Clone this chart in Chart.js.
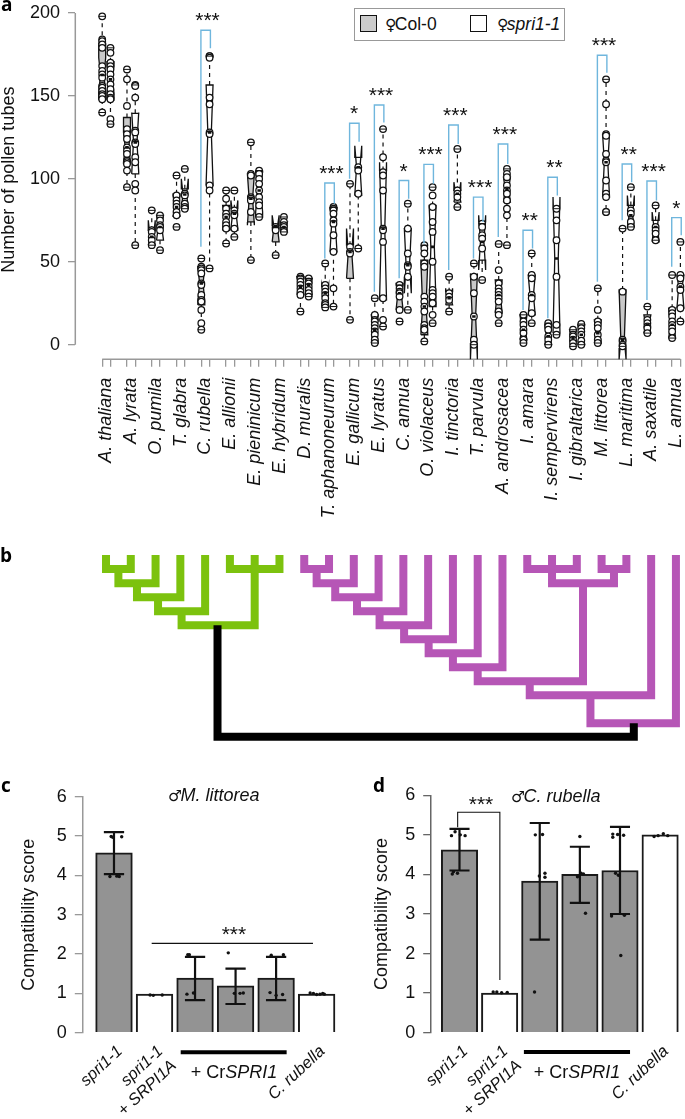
<!DOCTYPE html>
<html><head><meta charset="utf-8">
<script src="https://cdn.jsdelivr.net/npm/chart.js@4"></script>
<style>
html,body{margin:0;padding:0;background:#fff;width:685px;height:1119px;overflow:hidden;font-family:"Liberation Sans",sans-serif;color:#111}
canvas{position:absolute;display:block}
.t{position:absolute;white-space:nowrap;font-size:18px;line-height:1}
.s{font-family:"DejaVu Sans",sans-serif;font-size:15.5px;letter-spacing:-1.5px}
.p{position:absolute;font-family:"Open Sans",sans-serif;font-weight:700;font-size:19px;line-height:1;color:#000}
i{font-style:italic}
#lg{position:absolute;left:354px;top:8px;width:209px;height:31px;border:1.5px solid #999;background:#fff}
.sw{position:absolute;top:6px;width:15px;height:15px;border:1.7px solid #111}
</style></head><body>
<canvas id="a" width="685" height="540" style="left:0;top:0"></canvas>
<canvas id="b" width="685" height="220" style="left:0;top:540px"></canvas>
<canvas id="c" width="345" height="349" style="left:0;top:770px"></canvas>
<canvas id="d" width="340" height="349" style="left:345px;top:770px"></canvas>
<div class="p" style="left:1px;top:-5px">a</div>
<div class="p" style="left:0;top:546px">b</div>
<div class="p" style="left:1px;top:776px">c</div>
<div class="p" style="left:373px;top:776px">d</div>
<div id="lg">
 <div class="sw" style="left:5px;background:#ccc"></div>
 <div class="t" style="left:30px;top:7px;font-size:17.5px"><span class="s">♀</span>Col-0</div>
 <div class="sw" style="left:115px;background:#fff"></div>
 <div class="t" style="left:142px;top:7px;font-size:17.5px"><span class="s">♀</span><i>spri1-1</i></div>
</div>
<div class="t" style="left:168px;top:786px"><span class="s">♂</span><i>M. littorea</i></div>
<div class="t" style="left:511px;top:787px"><span class="s">♂</span><i>C. rubella</i></div>
<div class="t" style="left:234px;top:1072px;transform:translate(-50%,-50%)">+ Cr<i>SPRI1</i></div>
<div class="t" style="left:577px;top:1072px;transform:translate(-50%,-50%)">+ Cr<i>SPRI1</i></div>
<script>
// ---------- panel a data ----------
const species=["A. thaliana","A. lyrata","O. pumila","T. glabra","C. rubella","E. allionii","E. pieninicum","E. hybridum","D. muralis","T. aphanoneurum","E. gallicum","E. lyratus","C. annua","O. violaceus","I. tinctoria","T. parvula","A. androsacea","I. amara","I. sempervirens","I. gibraltarica","M. littorea","L. maritima","A. saxatile","L. annua"];
const colPoints=[[198,184,183,181,179,168,165,163,161,156,155,153,151,150,148,140],[166,160,144,130,127,124,119,117,115,111,110,109,105,95],[81,69,68,65,63,60],[102,90,87,85,83,80,78,71],[52,47,46,45,43,37,36,30,27,26,21,13,9],[93,88,82,79,77,74,72,70,61],[122,103,102,89,88,87,80,51],[71,70,69,54],[41,40,38,36,34,32,30,20],[49,36,34,32,30,28,25,24,22.5],[97,59,56,55,15],[28,18,15,14,12,10,8,6,3,1],[36,34,32,31,29,21,14],[60,58,55,49,47,29,26,23,20,12,10,9,2],[41,31,29,27,20],[49,41,31,17,3,0],[60.7,45,37,34,32,30,28,26,20,18,13],[18,14,12,9,7,3,1],[13,11,9,5,3,0],[9,6,5,3,1,-1],[34,21,14,12,10,6,3,1],[70,32,3,2,0,-1],[23,15,13,11,10,7],[42,21,19,17,14,12,10,8,4]];
const spriPoints=[[179,176,170,168,166,163,160,157,154,151,149,148,136,133],[156.6,156,149,129,128,122,121,113,110,97,93,60],[78,75,72,71,69,57],[106,91,90,85,83,82],[174,174,173,149,145,128,127,96,93,46],[93,81,79,78,70,65],[105,103,100,97,93,89,86,84,77],[77,74,72,71,69,68],[40,38,37,35,33,31,29],[83,82,81,79,75,73,66,56,34,23],[107,105,91,58],[130,113,104,102,93,70,69,62,28,15,11],[85,70,55,48,47,41,21],[95,90,83,74,68,50,33,31,29,25,18,13],[118,93,91,89,83],[73,71,66,64,58,39],[106,103,101,96,93,91,87,82,78,60],[55,42,40,30,28,19,13],[82,75,63,41,12,6],[12.5,10,8,6,2.5,0],[160,145,127,126,115,111,110,99,91,89,80,80],[95,81,79,74,71],[84,71,69,67,63],[62,42,40,35,33,22,14]];
const colQ1=[147.5,109,60,78,24,69,74,62,30,23,40,1,21,6,24,1,19,3,0,2,1,-2,7,4];
const colMed=[162.6,119,65,83,37,77,88,71,35,31,56,9,31,23,28,17,30,9,5,4,7,3,12,12];
const colQ3=[181.7,137,69,91,47,84,103,72,41,35,60,18,37,51,32,41,39,18,12,9,15,33,18,22];
const colNotchLo=[152,110,60,77,26,70,72,62,30,23,40,1,21,6,24,-8.8,19,3,0,2,1,-8.8,7,4];
const colNotchHi=[173,128,75,90,47,84,103,78,41,36,70,18,37,51,34,43,39,18,12,9,15,33,18,22];
const spriQ1=[147.5,103,63,82,96,69,77,68,30,56,90,27,41,23,86,51,86,18,7,0,89,71,62,22];
const spriMed=[160,122,71,90.6,128,79,93,71,36,74,107,70,48,59,91,62,94,30,52,6,110,78,71,35];
const spriQ3=[170.6,139.5,78,94,156.6,82,104,74,40,82,113,105,70,84,93,74,101,42,83,12,126.5,84,75,42];
const spriNotchLo=[152,104,63,83,97,70,80,68,30,56,90,27,31,23,86,45,86,18,7,0,89,71,62,22];
const spriNotchHi=[168,140,78,100,157,87,105,74,40,83,120,110,70,84,98,78,101,42,89,12,127,90,80,42];
const sigGroups=[4,9,10,11,12,13,14,15,16,17,18,20,21,22,23];
const sigStars=["***","***","*","***","*","***","***","***","***","**","**","***","**","***","*"];
const sigTop=[189.6,97.5,133.5,144.5,99,108.7,132.5,89,121,69,101,174.5,109,98.7,76.6];
const sigLeft=[59,52,100,32,40,61,45,52,65,21,16,38,75,27,47];
const sigRight=[178.7,85,122.4,134,88,97,121,74,109,58,90,164,98,87,66];
const yTicksA=[0,50,100,150,200];
// ---------- panel b data (tip index, node depth) ----------
const greenBranches=[[[0,57],[0,87],[1,87],[1,57]],[[.5,87],[.5,130],[2,130],[2,57]],[[1.25,130],[1.25,172],[3,172],[3,57]],[[2.1,172],[2.1,214],[4,214],[4,57]],[[3.05,214],[3.05,256],[6,256],[6,57]],[[5,57],[5,87],[7,87],[7,57]]];
const purpleBranches=[[[8,57],[8,87],[9,87],[9,57]],[[8.5,87],[8.5,130],[10,130],[10,57]],[[9.25,130],[9.25,172],[11,172],[11,57]],[[10.13,172],[10.13,214],[12,214],[12,57]],[[11.04,214],[11.04,256],[13,256],[13,57]],[[12.03,256],[12.03,298],[14,298],[14,57]],[[13.02,298],[13.02,340],[15,340],[15,57]],[[14,340],[14,382],[16,382],[16,57]],[[15,382],[15,424],[19.25,424],[19.25,130]],[[17,57],[17,87],[19,87],[19,57]],[[18,57],[18,130]],[[20,57],[20,87],[21,87],[21,57]],[[20.5,87],[20.5,130]],[[18,130],[20.5,130]],[[17.1,424],[17.1,466],[22,466],[22,57]],[[19.55,466],[19.55,550],[23,550],[23,57]]];
const rootBranch=[[[4.5,268],[4.5,590],[21.3,590],[21.3,562]]];
// ---------- panels c,d data ----------
const barLabels=["spri1-1",["spri1-1","+ SRPI1A"],"","","","C. rubella"];
const barFills=["#939393","#ffffff","#939393","#939393","#939393","#ffffff"];
const meansC=[4.57,0.98,1.39,1.19,1.39,0.98];
const errHiC=[5.1,null,1.93,1.63,1.93,null];
const errLoC=[4.03,null,0.83,0.73,0.83,null];
const dotsXC=[-.07,-.03,.19,-.1,.07,.13,.89,.97,1.19,1.82,1.86,1.8,1.96,2.82,2.97,3.11,3.19,3.88,4.18,3.85,4,4.16,4.84,4.92,5,5.08,5.15,5.19];
const dotsYC=[4.99,4.97,4.98,3.97,3.98,3.97,.96,.95,.96,1.98,1.98,.98,1.01,2.03,1,1,1.01,1.97,1.98,1.02,.95,.97,1.01,1,.97,.98,1,.98];
const meansD=[4.62,1,3.83,4,4.1,5];
const errHiD=[5.15,null,5.3,4.7,5.2,null];
const errLoD=[4.1,null,2.35,3.28,3,null];
const dotsXD=[-.2,-.11,.02,.14,-.18,-.15,-.05,.84,.93,1.05,1.19,1.89,2.07,1.99,2.13,2.13,1.87,3,2.94,3.03,3.09,3.14,3.82,3.82,3.94,4.09,3.89,3.96,3.79,4.11,4.02,4.85,4.95,5.08,5.19];
const dotsYD=[4.98,5.08,5,4.98,4.01,4.07,4.03,1.03,1.03,1.01,1.02,5,5.01,3.96,4.03,3.93,1.03,4.96,3.94,4.03,4.01,3.02,5.02,4.94,5.01,4.99,4.03,3.98,2.95,2.97,1.95,4.96,4.98,5.03,4.98];

Chart.defaults.font.family='"Liberation Sans",sans-serif';
Chart.defaults.font.size=18;
Chart.defaults.color='#111';
Chart.defaults.animation=false;

const path=polys=>polys.flatMap(p=>[...p.map(([x,y])=>({x,y})),{x:null,y:null}]);
const ln=(data,color,width,order,extra={})=>Object.assign({type:'line',data,borderColor:color,borderWidth:width,pointRadius:0,pointHoverRadius:0,fill:false,tension:0,clip:false,order,borderCapStyle:'butt',borderJoinStyle:'miter'},extra);
const starPlugin=list=>({id:'stars',afterDatasetsDraw(ch){const c=ch.ctx;c.save();c.font='21px "Liberation Sans"';c.fillStyle='#111';c.textAlign='center';c.textBaseline='alphabetic';
  list.forEach(s=>c.fillText(s.text,ch.scales.x.getPixelForValue(s.x),ch.scales.y.getPixelForValue(s.y)+(s.dy||0)+12));c.restore();}});
const base=(top)=>({responsive:false,animation:false,maintainAspectRatio:false,layout:{autoPadding:false,padding:{top,bottom:0,left:0,right:0}},plugins:{legend:{display:false},tooltip:{enabled:false}},events:[]});
const fitY=w=>s=>{s.width=w;s.paddingTop=0;s.paddingBottom=0;};
const fitX=h=>s=>{s.height=h;s.paddingLeft=0;s.paddingRight=0;};

// ---------- panel a ----------
(function(){
 const ppu=(344.7-13)/200, xMin=-2.257, xMax=71.557, yMin=-8.8, yMax=344.7/ppu;
 const posCol=g=>1+3*g, posSpri=g=>2+3*g;
 const w=.42, ds=[];
 const whisk=[],caps=[],meds=[],pts=[];
 const addBox=(x,q1,m,q3,nl,nu,fillC,p)=>{
  const shape=[[x-w,q1],[x-w,nl],[x-w/2,m],[x-w,nu],[x-w,q3],[x+w,q3],[x+w,nu],[x+w/2,m],[x+w,nl],[x+w,q1],[x-w,q1]];
  ds.push(ln(shape.map(([a,b])=>({x:a,y:b})),'#111',1.3,4,{fill:'shape',backgroundColor:fillC}));
  const hi=Math.max(...p),lo=Math.min(...p);
  whisk.push([[x,q3],[x,hi]],[[x,q1],[x,lo]]);
  caps.push([[x-.45,hi],[x+.45,hi]],[[x-.45,lo],[x+.45,lo]]);
  meds.push([[x-w/2,m],[x+w/2,m]]);
  p.forEach(v=>pts.push({x,y:v}));
 };
 species.forEach((_,g)=>{
  addBox(posCol(g),colQ1[g],colMed[g],colQ3[g],colNotchLo[g],colNotchHi[g],'#c9c9c9',colPoints[g]);
  addBox(posSpri(g),spriQ1[g],spriMed[g],spriQ3[g],spriNotchLo[g],spriNotchHi[g],'#ffffff',spriPoints[g]);
 });
 ds.push(ln(path(whisk),'#111',1.2,5,{borderDash:[4,4]}));
 ds.push(ln(path(caps),'#111',1,2));
 ds.push(ln(path(meds),'#111',2.6,2));
 ds.push(ln(pts,'#111',1,3,{showLine:false,pointRadius:3.3,pointBackgroundColor:'#fff',pointBorderColor:'#111',pointBorderWidth:1.25}));
 const brackets=sigGroups.map((g,i)=>[[posCol(g)-.05,sigLeft[i]],[posCol(g)-.05,sigTop[i]],[posSpri(g)+.1,sigTop[i]],[posSpri(g)+.1,sigRight[i]]]);
 ds.push(ln(path(brackets),'#6fb6dd',1.4,1));
 ds.push(ln([{x:xMin,y:yTicksA[0]},{x:xMin,y:yTicksA[4]}],'#999',1.5,6));
 ds.push(ln([{x:1,y:yMin},{x:71,y:yMin}],'#999',1.5,6));
 const stars=sigGroups.map((g,i)=>({text:sigStars[i],x:posCol(g)+.5+(sigStars[i].length>1?.25:0),y:sigTop[i],dy:-15}));
 const o=base(0);
 const tickVals=species.flatMap((_,g)=>[posCol(g),posCol(g)+.5,posSpri(g)]);
 o.scales={
  x:{type:'linear',min:xMin,max:xMax,border:{display:false},
     grid:{drawOnChartArea:false,tickLength:7.4,lineWidth:1.3,tickColor:c=>c.index%3===1?'rgba(0,0,0,0)':'#999'},
     afterBuildTicks:s=>{s.ticks=tickVals.map(v=>({value:v}));},
     afterFit:fitX(540-359.3),
     ticks:{autoSkip:false,minRotation:90,maxRotation:90,padding:11,font:{style:'italic',size:18},callback:(v,i)=>i%3===1?species[(i-1)/3]:''}},
  y:{type:'linear',min:yMin,max:yMax,border:{display:false},
     grid:{drawOnChartArea:false,tickLength:7.3,lineWidth:1.3,tickColor:'#999'},
     afterBuildTicks:s=>{s.ticks=yTicksA.map(v=>({value:v}));},
     afterFit:fitY(75.3),
     ticks:{padding:8,font:{size:18}},
     title:{display:true,text:'Number of pollen tubes',font:{size:18},padding:{top:-1.5,bottom:0}}}
 };
 new Chart(document.getElementById('a'),{type:'line',data:{datasets:ds},options:o,plugins:[starPlugin(stars)]});
})();

// ---------- panel b ----------
(function(){
 const o=base(0);
 o.scales={x:{type:'linear',display:false,min:-4.278,max:23.366},y:{type:'linear',display:false,min:0,max:660,reverse:true}};
 const sq={borderCapStyle:'square'};
 new Chart(document.getElementById('b'),{type:'line',data:{datasets:[
  ln(path(rootBranch),'#000',8,1,sq),
  ln(path(greenBranches),'#7cc20e',8,2,sq),
  ln(path(purpleBranches),'#b656b6',8,2,sq)
 ]},options:o});
})();

// ---------- panels c, d ----------
function barPanel(id,cfg){
 const ds=[];
 ds.push({type:'bar',data:cfg.means.map((v,i)=>({x:i,y:v})),backgroundColor:barFills,borderColor:'#1a1a1a',borderWidth:2,barThickness:cfg.barW,order:4,clip:false});
 const err=[];
 cfg.errHi.forEach((h,i)=>{if(h===null)return;const l=cfg.errLo[i];err.push([[i-.25,h],[i+.25,h]],[[i,h],[i,l]],[[i-.25,l],[i+.25,l]]);});
 ds.push(ln(path(err),'#111',2.2,2));
 ds.push(ln(cfg.dotsX.map((x,i)=>({x,y:cfg.dotsY[i]})),'#111',0,1,{showLine:false,pointRadius:1.7,pointBackgroundColor:'#111',pointBorderWidth:0}));
 ds.push(ln(path(cfg.sigLine),'#111',1.1,1));
 ds.push(ln(path(cfg.under),'#000',4,1));
 const o=base(cfg.top);
 o.scales={
  x:{type:'linear',offset:false,min:cfg.xMin,max:cfg.xMax,border:{display:false},grid:{display:false},
     afterBuildTicks:s=>{s.ticks=barLabels.map((_,i)=>({value:i}));},
     afterFit:fitX(cfg.h),
     ticks:{autoSkip:false,minRotation:43,maxRotation:43,padding:1,labelOffset:cfg.lo,font:{style:'italic',size:16.5},callback:(v,i)=>barLabels[i]}},
  y:{type:'linear',min:0,max:6,border:{color:cfg.axis,width:1.5},
     grid:{drawOnChartArea:false,tickLength:7.5,lineWidth:1.3,tickColor:cfg.axis},
     afterFit:fitY(cfg.yw),
     ticks:{stepSize:1,padding:8,font:{size:18}},
     title:{display:true,text:'Compatibility score',font:{size:18},padding:{top:cfg.tp,bottom:0}}}
 };
 new Chart(document.getElementById(id),{type:'bar',data:{datasets:ds},options:o,plugins:[starPlugin(cfg.stars)]});
}
barPanel('c',{means:meansC,errHi:errHiC,errLo:errLoC,dotsX:dotsXC,dotsY:dotsYC,barW:36.7,top:26.7,h:86.3,yw:82.3,xMin:-.782,xMax:5.70,axis:'#999',tp:18,lo:6,
 sigLine:[[[.93,2.27],[4.91,2.27]]],under:[[[1.646,-.498],[4.26,-.498]]],stars:[{text:'***',x:2.96,y:2.644}]});
barPanel('d',{means:meansD,errHi:errHiD,errLo:errLoD,dotsX:dotsXD,dotsY:dotsYD,barW:36.4,top:25.3,h:86.3,yw:85.7,xMin:-.7177,xMax:5.62,axis:'#666',tp:26,lo:6,
 sigLine:[[[-.046,5.19],[-.046,5.57],[1.006,5.57],[1.006,1.33]]],under:[[[1.605,-.489],[4.25,-.489]]],stars:[{text:'***',x:.536,y:5.9}]});
</script>
</body></html>
